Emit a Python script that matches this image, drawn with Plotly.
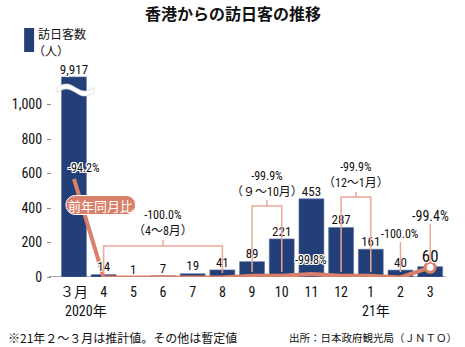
import math
import plotly.graph_objects as go

# ---------------- data ----------------
months = ["３月", "4", "5", "6", "7", "8", "9", "10", "11", "12", "1", "2", "3"]
visitors = [9917, 14, 1, 7, 19, 41, 89, 221, 453, 287, 161, 40, 60]
yoy = [-94.2, -100.0, -100.0, -100.0, -100.0, -100.0, -99.9, -99.9, -99.8, -99.9, -99.9, -100.0, -99.4]
y_ticks = [0, 200, 400, 600, 800, 1000]
y_tick_text = ["0", "200", "400", "600", "800", "1,000"]
# bracket groups: (first index, last index, rate, period)
groups = [(1, 5, "-100.0%", "（4～8月）"), (6, 7, "-99.9%", "（９～10月）"), (9, 10, "-99.9%", "（12～1月）")]
year_labels = [(0, "2020年"), (10, "21年")]

# ---------------- styles ----------------
W, H = 465, 347
L, R, T, B = 50, 20, 65, 70
PW, PH = W - L - R, H - T - B
YMAX = 1229
CAP = 1160  # broken-axis display cap
NAVY = "#233f78"
SALMON = "#d9806a"
LIGHT = "#eaa898"
NUM = "Liberation Sans Narrow, Roboto Condensed, DejaVu Sans Condensed, Noto Sans CJK JP, sans-serif"
JP = "Noto Sans CJK JP, sans-serif"
OUT = "1px 0 0 white, -1px 0 0 white, 0 1px 0 white, 0 -1px 0 white, 1px 1px 0 white, -1px -1px 0 white, 1px -1px 0 white, -1px 1px 0 white"


def fx(px):
    return (px - L) / PW


def fy(py):
    return (H - B - py) / PH


def yv(py):
    return (H - B - py) / PH * YMAX


XMIN, XMAX = -0.74, 12.5


def xpx(i):
    return L + (i - XMIN) / (XMAX - XMIN) * PW


shown = [min(v, CAP) for v in visitors]
labels = [f"{v:,}" for v in visitors]
sizes = [13] * len(visitors)
sizes[-1] = 17

fig = go.Figure()
fig.add_trace(go.Bar(
    x=months, y=shown, width=0.84,
    marker=dict(color=NAVY, line=dict(color="#5f77a8", width=0.6)),
    hoverinfo="skip", zorder=0,
))
fig.add_trace(go.Scatter(
    x=months, y=yoy, yaxis="y2", mode="lines",
    line=dict(color=SALMON, width=4, shape="linear"),
    cliponaxis=False, hoverinfo="skip", zorder=1,
))
fig.add_trace(go.Scatter(
    x=months[-1:], y=yoy[-1:], yaxis="y2", mode="markers",
    marker=dict(size=10, color="white", line=dict(color=SALMON, width=3)),
    cliponaxis=False, hoverinfo="skip", zorder=2,
))
fig.add_trace(go.Scatter(
    x=months, y=shown, mode="text", text=labels, textposition="top center",
    textfont=dict(family=NUM, size=sizes, color="#111", shadow=OUT),
    cliponaxis=False, hoverinfo="skip", zorder=3,
))

shapes = []
annotations = []

# broken-axis wave on the first bar
x0, x1 = xpx(0) - 17, xpx(0) + 20
up, lo = [], []
n = 30
for k in range(n + 1):
    t = k / n
    px = x0 + (x1 - x0) * t
    cy = 90 - 3.5 * math.sin(2 * math.pi * t)
    up.append((fx(px), fy(cy - 2.6)))
    lo.append((fx(px), fy(cy + 2.6)))
pts = up + lo[::-1]
path = "M " + " L ".join(f"{a:.5f},{b:.5f}" for a, b in pts) + " Z"
shapes.append(dict(type="path", xref="paper", yref="paper", path=path,
                   fillcolor="white", line=dict(color="#c8c8c8", width=0.6), layer="above"))

# brackets
levels = [(246, 240, 273, 223), (206, 200, 272, 184), (197, 192, 272, 175)]
for (a, b, rate, per), (ly, ty, dy, lab) in zip(groups, levels):
    shapes.append(dict(type="path", xref="x", yref="y",
                       path=f"M {a},{yv(dy):.2f} L {a},{yv(ly):.2f} L {b},{yv(ly):.2f} L {b},{yv(dy):.2f}",
                       line=dict(color=LIGHT, width=1.5), layer="above"))
    m = (a + b) / 2
    shapes.append(dict(type="line", xref="x", yref="y", x0=m, x1=m, y0=yv(ly), y1=yv(ty),
                       line=dict(color=LIGHT, width=1.5)))
    annotations.append(dict(x=m, y=yv(lab), xref="x", yref="y", showarrow=False,
                            text=f"{rate}<br>{per}", align="center",
                            font=dict(family=NUM, size=12, color="#111")))

# single-month rate labels
single = [(11, "-100.0%", 234, 242, 272), (12, "-99.4%", 216, 224, 262)]
for i, txt, ty, l0, l1 in single:
    shapes.append(dict(type="line", xref="x", yref="y", x0=i, x1=i, y0=yv(l0), y1=yv(l1),
                       line=dict(color=LIGHT, width=1.5), layer="above"))
    annotations.append(dict(x=i, y=yv(ty), xref="x", yref="y", showarrow=False, text=txt,
                            font=dict(family=NUM, size=14 if i == 12 else 12, color="#111")))
annotations.append(dict(x=8, y=yv(260), xref="x", yref="y", showarrow=False, text=f"{yoy[8]:.1f}%",
                        font=dict(family=NUM, size=12, color="#111", shadow=OUT)))
annotations.append(dict(x=0.33, y=yv(168), xref="x", yref="y", showarrow=False, text=f"{yoy[0]:.1f}%",
                        font=dict(family=NUM, size=12, color="#111", shadow=OUT)))

# pill label
cx, cy, pw2, ph2 = 99, 205, 35, 9.5
pill = []
for k in range(13):
    ang = math.pi / 2 + math.pi * k / 12
    pill.append((cx - pw2 + ph2 + ph2 * math.cos(ang), cy - ph2 * math.sin(ang)))
for k in range(13):
    ang = -math.pi / 2 + math.pi * k / 12
    pill.append((cx + pw2 - ph2 + ph2 * math.cos(ang), cy - ph2 * math.sin(ang)))
ppath = "M " + " L ".join(f"{fx(a):.5f},{fy(b):.5f}" for a, b in pill) + " Z"
shapes.append(dict(type="path", xref="paper", yref="paper", path=ppath,
                   fillcolor=SALMON, line=dict(color="white", width=1), layer="above"))
annotations.append(dict(x=fx(cx), y=fy(cy), xref="paper", yref="paper", showarrow=False,
                        xanchor="center", yanchor="middle",
                        text="前年同月比", font=dict(family=JP, size=13, color="white")))

# legend
shapes.append(dict(type="rect", xref="paper", yref="paper", x0=fx(22), x1=fx(32), y0=fy(28), y1=fy(52),
                   fillcolor=NAVY, line=dict(width=0)))
annotations.append(dict(x=fx(34), y=fy(33), xref="paper", yref="paper", xanchor="left", yanchor="middle",
                        showarrow=False, text="訪日客数", font=dict(family=JP, size=12, color="#111")))
annotations.append(dict(x=fx(29), y=fy(50), xref="paper", yref="paper", xanchor="left", yanchor="middle",
                        showarrow=False, text="（人）", font=dict(family=JP, size=12, color="#111")))

# title
annotations.append(dict(x=fx(232), y=fy(13), xref="paper", yref="paper", showarrow=False,
                        xanchor="center", yanchor="middle",
                        text="<b>香港からの訪日客の推移</b>", font=dict(family=JP, size=16, color="#111")))

# year labels
for i, txt in year_labels:
    annotations.append(dict(x=i - 0.36, y=fy(311), xref="x", yref="paper", showarrow=False,
                            xanchor="left", yanchor="middle",
                            text=txt, font=dict(family=NUM, size=14, color="#111")))

# footers
annotations.append(dict(x=fx(4), y=fy(337), xref="paper", yref="paper", xanchor="left", yanchor="middle",
                        showarrow=False, text="※21年２～３月は推計値。その他は暫定値",
                        font=dict(family=JP, size=12, color="#111")))
annotations.append(dict(x=fx(459), y=fy(337), xref="paper", yref="paper", xanchor="right", yanchor="middle",
                        showarrow=False, text="出所：日本政府観光局（ＪＮＴＯ）",
                        font=dict(family=JP, size=10.5, color="#111")))

# baseline
shapes.append(dict(type="line", xref="paper", yref="y", x0=fx(47), x1=fx(446), y0=0, y1=0,
                   line=dict(color="#aaaaaa", width=2), layer="below"))

fig.update_layout(
    width=W, height=H, margin=dict(l=L, r=R, t=T, b=B),
    paper_bgcolor="white", plot_bgcolor="white", showlegend=False,
    bargap=0.16,
    xaxis=dict(type="category", range=[XMIN, XMAX], showgrid=False, zeroline=False, showline=False,
               ticks="", ticklabelstandoff=5, tickfont=dict(family=NUM, size=14, color="#111")),
    yaxis=dict(range=[0, YMAX], tickvals=y_ticks, ticktext=y_tick_text, showgrid=False, zeroline=False,
               showline=True, linecolor="#888", linewidth=1, ticks="outside", ticklen=4, tickcolor="#888",
               ticklabelstandoff=2, tickfont=dict(family=NUM, size=14, color="#111")),
    yaxis2=dict(range=[-99.97, -99.97 + PH / 17.0], overlaying="y", visible=False),
    shapes=shapes, annotations=annotations,
)
fig.write_html("out.html")
